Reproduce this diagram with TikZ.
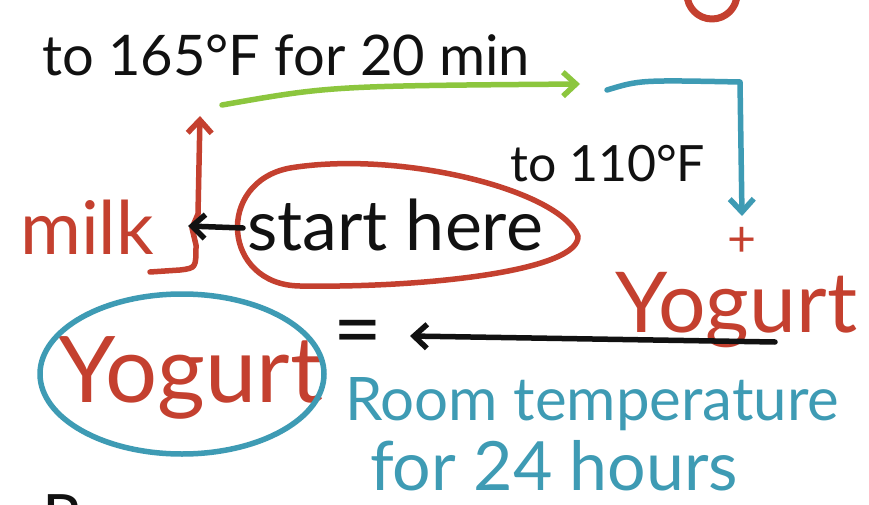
\documentclass[tikz,border=0pt]{standalone}
\usepackage{fontspec}
\setmainfont{Lato}
\usetikzlibrary{arrows.meta}
\definecolor{Ink}{HTML}{111111}
\definecolor{Brick}{HTML}{C4402F}
\definecolor{Lime}{HTML}{8CC63E}
\definecolor{Teal}{HTML}{3E9BB4}
\newcommand{\hand}[1]{\fontsize{#1}{#1}\selectfont}

\begin{document}
\begin{tikzpicture}[x=1pt,y=-1pt,every node/.style={inner sep=0pt,anchor=base west},pen/.style={line width=5.5pt,line cap=round,line join=round},inkpen/.style={pen,draw=Ink},redpen/.style={pen,draw=Brick},greenpen/.style={pen,draw=Lime},bluepen/.style={pen,draw=Teal},tip/.style={-{Straight Barb[length=13pt,width=24pt]}}]
\useasboundingbox (0,0) rectangle (869,505);
\clip (0,0) rectangle (869,505);
\fill[white] (0,0) rectangle (869,505);

% black notes
\node[text=Ink,font=\hand{56}] (heat) at (42,76) {to 165°F for 20 min};
\node[text=Ink,font=\hand{50}] (cool) at (510,182) {to 110°F};
\node[text=Ink,font=\hand{70}] (start) at (247,250) {start here};
\node[text=Ink,font=\hand{84}] (eq) at (333,358) {=};
\node[text=Ink,font=\hand{64}] (rest) at (42,540) {R};

% red words
\node[text=Brick,font=\hand{74}] (milk) at (20,254) {milk};
\node[text=Brick,font=\hand{50}] (plus) at (727,256) {+};
\node[text=Brick,font=\hand{84}] (yogR) at (615,332) {Yogurt};
\node[text=Brick,font=\hand{92}] (yogL) at (58,402) {Yogurt};

% blue words
\node[text=Teal,font=\hand{60}] (room) at (345,420) {Room temperature};
\node[text=Teal,font=\hand{68}] (hours) at (370,490) {for 24 hours};

% loops
\draw[redpen] (578,236) .. controls (560,190) and (400,150) .. (290,168) .. controls (215,182) and (222,285) .. (300,286) .. controls (430,288) and (580,270) .. (578,236);
\draw[bluepen] (182,374) ellipse [x radius=142,y radius=80];
\draw[redpen,line width=7pt] (712,-6) circle [radius=25];

% flow
\coordinate (up) at (200,116);
\coordinate (gstart) at (222,105);
\coordinate (gend) at (580,84);
\coordinate (bstart) at (607,90);
\coordinate (bend) at (742,216);
\coordinate (brace) at (188,226);
\coordinate (back) at (410,336);
\coordinate (from) at (775,342);
\draw[redpen,tip] (150,272) -- (180,270) .. controls (196,268) .. (196,245) -- (192,228) -- (198,214) -- (up);
\draw[inkpen,tip] (start.base west) ++(-4,-22) -- (brace);
\draw[greenpen,tip] (gstart) .. controls (330,86) .. (gend);
\draw[bluepen,tip] (bstart) .. controls (640,80) .. (740,82) -- (bend);
\draw[inkpen,tip] (from) -- (back);
\end{tikzpicture}
\end{document}
